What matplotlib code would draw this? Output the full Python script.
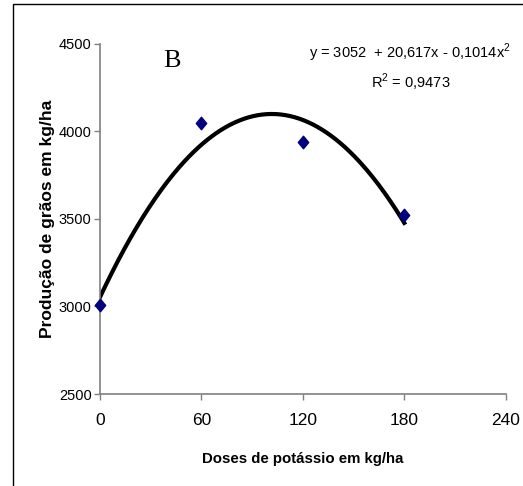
import numpy as np
import matplotlib
matplotlib.use("Agg")
from matplotlib import pyplot as plt
from matplotlib.patches import Rectangle
from matplotlib.path import Path

# observed points
doses = [0, 60, 120, 180]
producao = [3010, 4050, 3940, 3520]

# fitted quadratic (from the chart's equation)
coefs = [3052, 20.617, -0.1014]
eqText = "y = 3052  + 20,617x - 0,1014x$^2$"
r2Text = "R$^2$ = 0,9473"

xTicks = [0, 60, 120, 180, 240]
yTicks = [2500, 3000, 3500, 4000, 4500]


def main():
    plt.rcParams['font.family'] = ['Liberation Sans', 'DejaVu Sans']
    plt.rcParams['mathtext.fontset'] = 'custom'
    plt.rcParams['mathtext.rm'] = 'Liberation Sans'

    fig = plt.figure(figsize=(5.23, 4.86), dpi=100)
    ax = fig.add_axes([0.191, 0.1893, 0.776, 0.7202])

    # outer frame
    fig.patches.append(Rectangle((0.0243, -0.1), 1.2, 1.0915, transform=fig.transFigure,
                                 fill=False, edgecolor='black', linewidth=1.0))

    # slightly tall diamond like the original
    diamond = Path([(0, 1), (0.83, 0), (0, -1), (-0.83, 0), (0, 1)],
                   [Path.MOVETO, Path.LINETO, Path.LINETO, Path.LINETO, Path.CLOSEPOLY])

    xFit = np.linspace(doses[0], doses[-1], 200)
    yFit = coefs[0] + coefs[1] * xFit + coefs[2] * xFit ** 2
    ax.plot(xFit, yFit, color='black', linewidth=3, zorder=2)
    ax.plot(doses, producao, linestyle='none', marker=diamond, markersize=9,
            color='#000080', zorder=3, clip_on=False)

    ax.set_xlim(0, 240)
    ax.set_ylim(2500, 4500)
    ax.set_xticks(xTicks)
    ax.set_yticks(yTicks)
    ax.tick_params(color='#808080', length=4, width=1)
    ax.tick_params(axis='x', labelsize=12.5, pad=10)
    ax.tick_params(axis='y', labelsize=10.5, pad=2)

    for s in ['top', 'right']:
        ax.spines[s].set_visible(False)
    for s in ['left', 'bottom']:
        ax.spines[s].set_color('#808080')
        ax.spines[s].set_linewidth(1.2)

    ax.set_ylabel("Produção de grãos em kg/ha", fontsize=12.5, fontweight='bold', labelpad=3)
    ax.set_xlabel("Doses de potássio em kg/ha", fontsize=10.8, fontweight='bold', labelpad=17)

    ax.text(42.6, 4403, "B", fontsize=19, family='Liberation Serif', ha='center', va='center')
    ax.text(183, 4449, eqText, fontsize=10.5, ha='center', va='center')
    ax.text(184, 4283, r2Text, fontsize=10.5, ha='center', va='center')

    fig.savefig("out.png", dpi=100)


if __name__ == '__main__':
    main()
